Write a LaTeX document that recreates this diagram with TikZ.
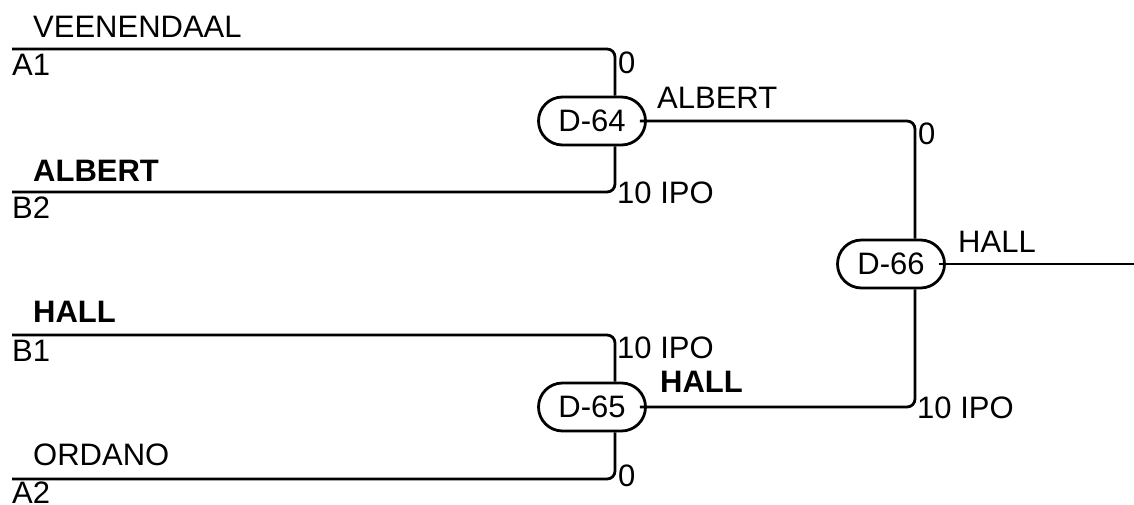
\documentclass[tikz,border=0pt]{standalone}
\usepackage{fontspec}
\setmainfont{Liberation Sans}
\usetikzlibrary{shapes.misc,calc}
\tikzset{
  wire/.style={line width=2.8pt, rounded corners=8pt},
  match/.style={rounded rectangle, draw, line width=2.8pt, minimum width=107pt, minimum height=48pt, inner sep=0pt, font=\fontsize{31}{36}\selectfont},
  lbl/.style={anchor=base west, inner sep=0pt, font=\fontsize{31}{36}\selectfont},
  blbl/.style={lbl, font=\fontsize{31}{36}\selectfont\bfseries},
}
\begin{document}
\begin{tikzpicture}[x=1pt,y=-1pt]
\useasboundingbox (0,0) rectangle (1134,504);
% match nodes
\node[match] (d64) at (592,121) {D-64};
\node[match] (d65) at (592,407) {D-65};
\node[match] (d66) at (891,264) {D-66};
% entry coordinates
\coordinate (a1) at (12,49);
\coordinate (b2) at (12,192);
\coordinate (b1) at (12,335);
\coordinate (a2) at (12,479);
\coordinate (out) at (1134,264);
\coordinate (d64t) at ($(d64.north)+(23,0)$);
\coordinate (d64b) at ($(d64.south)+(23,0)$);
\coordinate (d65t) at ($(d65.north)+(23,0)$);
\coordinate (d65b) at ($(d65.south)+(23,0)$);
\coordinate (d66t) at ($(d66.north)+(24,0)$);
\coordinate (d66b) at ($(d66.south)+(24,0)$);
% connectors
\draw[wire] (a1) -| (d64t);
\draw[wire] (b2) -| (d64b);
\draw[wire] (b1) -| (d65t);
\draw[wire] (a2) -| (d65b);
\draw[wire] ($(d64.east)+(-7,0)$) -| (d66t);
\draw[wire] ($(d65.east)+(-7,0)$) -| (d66b);
\draw[wire] ($(d66.east)+(-7,0)$) -- (out);
% team labels
\node[lbl] (tveen) at (33,37) {VEENENDAAL};
\node[lbl] (ta1) at (12,75) {A1};
\node[blbl] (talb) at (33,181) {ALBERT};
\node[lbl] (tb2) at (12,218) {B2};
\node[blbl] (thall) at (33,322) {HALL};
\node[lbl] (tb1) at (12,361) {B1};
\node[lbl] (tord) at (33,465) {ORDANO};
\node[lbl] (ta2) at (12,503.5) {A2};
% scores
\node[lbl] (s1) at (618,73) {0};
\node[lbl] (s2) at (617,203) {10 IPO};
\node[lbl] (s3) at (617,358) {10 IPO};
\node[lbl] (s4) at (618,486) {0};
\node[lbl] (s5) at (918,144) {0};
\node[lbl] (s6) at (917,418) {10 IPO};
% winners
\node[lbl] (w64) at (657,108) {ALBERT};
\node[blbl] (w65) at (660,392) {HALL};
\node[lbl] (w66) at (958,252) {HALL};
\end{tikzpicture}
\end{document}
